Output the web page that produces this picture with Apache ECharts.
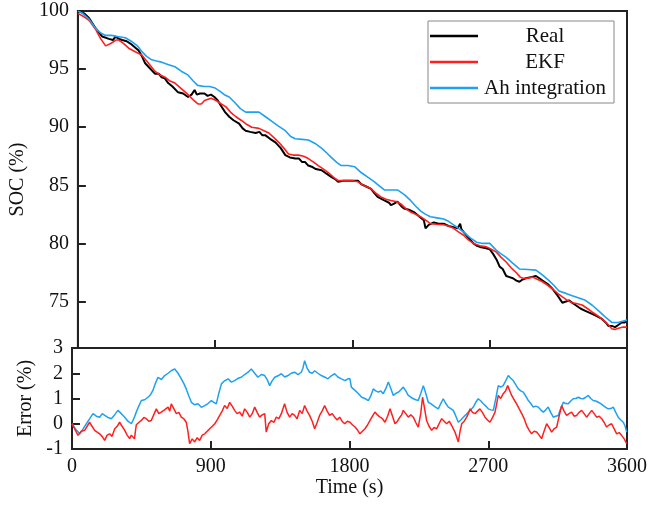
<!DOCTYPE html>
<html>
<head>
<meta charset="utf-8">
<script src="https://cdn.jsdelivr.net/npm/echarts@6/dist/echarts.min.js"></script>
<style>html,body{margin:0;padding:0;background:#fff}#c{width:662px;height:506px}</style>
</head>
<body>
<div id="c"></div>
<script>
// ---- Data (time in s, values in %) ----
const xTicks = [0, 900, 1800, 2700, 3600];
const socTicks = [75, 80, 85, 90, 95, 100];
const errTicks = [-1, 0, 1, 2, 3];
const legendNames = ['Real', 'EKF', 'Ah integration'];

const socReal = [[0,100],[20,99.9],[40,99.8],[73,99.4],[117,98.5],[160,97.8],[203,97.6],[230,97.5],[246,97.8],[270,97.6],[290,97.5],[320,97.4],[354,97.1],[398,96.6],[420,96.1],[441,95.5],[470,95.1],[506,94.6],[530,94.6],[549,94.3],[570,94.2],[592,93.8],[620,93.5],[657,93.0],[690,92.9],[722,92.6],[745,92.8],[765,93.2],[780,92.8],[800,92.9],[830,92.9],[850,92.7],[873,92.8],[895,92.6],[917,92.3],[940,91.8],[965,91.3],[992,90.9],[1020,90.6],[1057,90.3],[1080,89.9],[1100,89.7],[1130,89.6],[1165,89.5],[1190,89.6],[1210,89.3],[1230,89.3],[1260,89.0],[1295,88.7],[1330,88.2],[1360,87.6],[1390,87.4],[1425,87.3],[1450,87.3],[1470,87.0],[1490,87.0],[1510,86.7],[1533,86.6],[1560,86.4],[1598,86.3],[1630,86.0],[1663,85.7],[1690,85.5],[1706,85.3],[1740,85.4],[1771,85.4],[1800,85.4],[1836,85.4],[1857,85.1],[1890,84.9],[1922,84.7],[1945,84.3],[1965,84.0],[2009,83.7],[2040,83.5],[2052,83.3],[2070,83.4],[2095,83.6],[2120,83.2],[2138,83.0],[2170,82.9],[2203,82.7],[2240,82.3],[2268,82.0],[2279,81.3],[2300,81.6],[2333,81.8],[2365,81.7],[2398,81.7],[2430,81.5],[2463,81.4],[2490,81.3],[2506,81.7],[2515,81.2],[2528,81.0],[2560,80.5],[2593,80.0],[2615,79.8],[2636,79.7],[2670,79.6],[2700,79.5],[2722,79.1],[2745,78.6],[2765,78.0],[2785,77.8],[2808,77.2],[2830,77.1],[2852,77.0],[2875,76.8],[2895,76.7],[2915,76.9],[2938,77.0],[2970,77.1],[3003,77.2],[3025,77.0],[3046,76.8],[3080,76.5],[3111,76.1],[3140,75.6],[3176,74.9],[3200,75.0],[3219,75.1],[3240,74.9],[3262,74.7],[3295,74.4],[3327,74.2],[3360,74.0],[3392,73.8],[3436,73.5],[3460,73.2],[3478,72.9],[3500,72.9],[3522,72.8],[3545,73.0],[3565,73.2],[3585,73.2],[3600,73.4]];

const socEKF = [[0,99.8],[40,99.5],[73,99.2],[117,98.4],[150,97.6],[182,97.0],[215,97.2],[250,97.5],[268,97.5],[300,97.2],[333,96.8],[376,96.5],[420,96.2],[463,95.5],[506,94.8],[540,94.5],[571,94.3],[600,94.0],[636,93.8],[680,93.3],[722,92.8],[760,92.3],[787,92.0],[809,92.0],[830,92.3],[873,92.5],[906,92.3],[940,92.0],[971,91.75],[1000,91.3],[1036,90.9],[1070,90.6],[1100,90.3],[1140,90.0],[1187,89.9],[1220,89.7],[1252,89.5],[1285,89.1],[1317,88.7],[1350,88.2],[1381,87.7],[1410,87.6],[1446,87.6],[1480,87.5],[1511,87.3],[1545,87.0],[1576,86.7],[1610,86.4],[1641,86.1],[1675,85.7],[1706,85.4],[1740,85.4],[1771,85.4],[1800,85.4],[1836,85.3],[1857,85.1],[1890,84.9],[1922,84.7],[1955,84.3],[1987,84.0],[2020,83.8],[2052,83.7],[2085,83.6],[2117,83.4],[2150,83.0],[2181,82.7],[2215,82.5],[2246,82.3],[2280,82.0],[2311,81.7],[2350,81.65],[2398,81.6],[2430,81.5],[2463,81.3],[2495,81.0],[2528,80.7],[2560,80.3],[2593,80.0],[2636,79.8],[2679,79.7],[2710,79.5],[2744,79.25],[2775,78.8],[2808,78.4],[2840,77.9],[2873,77.5],[2900,77.1],[2917,77.0],[2950,77.0],[2981,77.1],[3015,76.9],[3046,76.7],[3080,76.4],[3111,76.1],[3145,75.7],[3176,75.4],[3210,75.1],[3241,74.9],[3275,74.8],[3306,74.7],[3340,74.4],[3371,74.1],[3405,73.8],[3436,73.5],[3470,73.1],[3500,72.65],[3520,72.6],[3544,72.7],[3575,72.8],[3600,72.8]];

const socAh = [[0,100],[30,99.8],[73,99.3],[117,98.5],[150,98.1],[182,97.9],[220,97.9],[260,97.8],[311,97.7],[350,97.4],[390,97.0],[420,96.5],[450,96.1],[484,95.8],[515,95.7],[549,95.6],[590,95.4],[636,95.2],[680,94.8],[721,94.5],[755,94.0],[785,93.6],[830,93.5],[863,93.5],[895,93.4],[930,93.1],[960,92.8],[992,92.6],[1030,92.1],[1065,91.6],[1100,91.3],[1140,91.3],[1187,91.3],[1230,90.9],[1272,90.5],[1315,90.1],[1360,89.7],[1395,89.2],[1425,89.0],[1470,88.95],[1511,88.9],[1555,88.6],[1597,88.2],[1630,87.8],[1661,87.4],[1695,87.0],[1726,86.7],[1771,86.7],[1814,86.6],[1857,86.1],[1900,85.7],[1944,85.3],[1980,84.9],[2009,84.6],[2050,84.6],[2095,84.6],[2140,84.2],[2181,83.7],[2215,83.2],[2246,82.8],[2280,82.5],[2311,82.3],[2355,82.2],[2398,82.1],[2430,81.9],[2463,81.6],[2495,81.3],[2528,81.0],[2570,80.5],[2614,80.1],[2655,80.0],[2700,80.0],[2744,79.4],[2775,79.1],[2808,78.8],[2850,78.3],[2895,77.8],[2950,77.75],[3003,77.7],[3045,77.3],[3089,76.8],[3120,76.4],[3154,75.9],[3200,75.7],[3241,75.5],[3285,75.3],[3327,75.1],[3370,74.7],[3414,74.2],[3455,73.7],[3500,73.2],[3541,73.2],[3570,73.3],[3600,73.4]];

const errEKF = [[0,0],[6,0],[39,-0.46],[60,-0.3],[82,-0.26],[114,0.06],[130,-0.1],[147,-0.26],[179,-0.4],[195,-0.5],[212,-0.66],[228,-0.45],[244,-0.4],[260,-0.5],[277,-0.2],[293,-0.1],[309,0.06],[325,-0.1],[342,-0.26],[358,-0.45],[374,-0.59],[385,-0.45],[396,-0.4],[405,-0.6],[417,-0.04],[433,0.05],[450,0.13],[466,0.25],[482,0.2],[498,0.1],[514,0.13],[530,0.35],[547,0.59],[563,0.4],[579,0.46],[600,0.55],[623,0.66],[634,0.5],[644,0.79],[660,0.6],[677,0.4],[693,0.45],[709,0.26],[725,0.2],[741,0.06],[752,-0.3],[763,-0.79],[780,-0.6],[796,-0.72],[812,-0.55],[828,-0.66],[845,-0.45],[861,-0.4],[877,-0.3],[893,-0.2],[910,-0.1],[926,0],[942,0.15],[958,0.33],[974,0.5],[990,0.72],[1007,0.6],[1023,0.85],[1039,0.7],[1055,0.53],[1071,0.4],[1088,0.46],[1104,0.3],[1120,0.59],[1137,0.45],[1153,0.26],[1169,0.4],[1185,0.66],[1201,0.45],[1217,0.26],[1234,0.35],[1250,0.4],[1260,-0.33],[1276,0],[1293,0.13],[1309,0.05],[1325,0.26],[1342,0.2],[1358,0.4],[1379,0.79],[1395,0.45],[1412,0.26],[1428,0.4],[1444,0.33],[1460,0.2],[1477,0.53],[1493,0.4],[1509,0.72],[1525,0.5],[1541,0.33],[1558,0.1],[1574,-0.2],[1590,0.05],[1606,0.33],[1622,0.5],[1639,0.72],[1655,0.5],[1671,0.33],[1688,0.4],[1704,0.26],[1720,0.15],[1736,0.26],[1752,0.1],[1769,0],[1786,0.1],[1803,0.06],[1820,-0.05],[1836,-0.13],[1852,-0.25],[1868,-0.4],[1884,-0.3],[1900,-0.2],[1917,-0.05],[1933,0.13],[1949,0.3],[1965,0.46],[1982,0.35],[1998,0.26],[2014,0.2],[2030,0.06],[2047,0.3],[2063,0.59],[2079,0.3],[2095,0],[2111,0.1],[2127,0.26],[2138,0.35],[2149,0.53],[2165,0.4],[2181,0.26],[2198,0.35],[2214,0.26],[2230,0.05],[2246,-0.13],[2262,0.4],[2274,1.05],[2287,0.6],[2300,0.13],[2316,-0.1],[2333,-0.26],[2349,-0.15],[2365,-0.2],[2381,0],[2398,0.2],[2414,0.1],[2430,0],[2447,0.1],[2463,-0.07],[2484,-0.33],[2495,-0.3],[2506,-0.72],[2517,-0.3],[2528,0],[2544,0.1],[2560,0.26],[2571,0.4],[2582,0.59],[2598,0.45],[2614,0.4],[2630,0.5],[2646,0.59],[2662,0.45],[2679,0.26],[2695,0.15],[2711,0.06],[2728,0.25],[2744,0.46],[2755,0.8],[2765,1.12],[2781,1.0],[2797,1.19],[2812,1.3],[2826,1.51],[2840,1.3],[2852,1.12],[2868,0.95],[2884,0.79],[2900,0.6],[2917,0.4],[2933,0.2],[2949,-0.07],[2965,-0.25],[2981,-0.4],[2997,-0.3],[3014,-0.33],[3030,-0.45],[3046,-0.59],[3062,-0.3],[3079,0],[3095,-0.15],[3111,-0.33],[3127,-0.2],[3144,-0.13],[3160,0.3],[3176,0.72],[3192,0.5],[3208,0.33],[3224,0.4],[3241,0.46],[3257,0.3],[3273,0.33],[3289,0.45],[3306,0.53],[3322,0.4],[3338,0.26],[3355,0.4],[3371,0.53],[3387,0.4],[3403,0.26],[3420,0.3],[3436,0.2],[3452,0.05],[3468,-0.13],[3484,-0.05],[3500,0],[3517,-0.2],[3533,-0.4],[3549,-0.35],[3565,-0.46],[3582,-0.6],[3598,-0.79]];

const errAh = [[0,0],[6,-0.07],[28,-0.25],[50,-0.4],[72,-0.2],[93,0],[115,0.2],[136,0.4],[158,0.3],[179,0.26],[196,0.4],[212,0.33],[233,0.25],[255,0.2],[276,0.35],[298,0.53],[320,0.4],[342,0.26],[363,0.1],[385,0],[401,0.2],[417,0.46],[433,0.7],[450,0.92],[471,0.95],[493,1.05],[509,1.15],[525,1.32],[541,1.6],[558,1.84],[580,1.75],[601,1.91],[623,2.0],[644,2.1],[666,2.17],[688,2.0],[709,1.78],[725,1.6],[741,1.38],[758,1.1],[774,0.85],[796,0.75],[817,0.79],[839,0.65],[861,0.72],[882,0.8],[904,0.92],[920,0.85],[936,0.79],[952,1.2],[969,1.58],[990,1.7],[1012,1.78],[1034,1.65],[1055,1.71],[1077,1.8],[1098,1.84],[1120,1.95],[1142,2.04],[1163,2.17],[1185,2.0],[1206,1.84],[1228,1.95],[1250,1.91],[1266,1.75],[1282,1.51],[1298,1.7],[1315,1.84],[1336,1.9],[1358,1.98],[1380,1.85],[1401,1.91],[1422,2.0],[1444,2.04],[1466,1.95],[1487,2.04],[1498,2.2],[1509,2.5],[1525,2.2],[1541,2.04],[1558,2.0],[1574,2.1],[1595,2.0],[1617,1.91],[1638,1.85],[1660,1.78],[1682,1.9],[1704,1.98],[1725,1.85],[1747,1.78],[1771,1.71],[1790,1.78],[1803,1.78],[1812,1.45],[1836,1.32],[1857,1.2],[1879,1.05],[1900,1.0],[1922,0.92],[1938,1.1],[1954,1.38],[1970,1.3],[1987,1.25],[2003,1.3],[2019,1.19],[2036,1.4],[2052,1.65],[2068,1.4],[2084,1.12],[2100,1.2],[2117,1.25],[2133,1.35],[2149,1.45],[2165,1.3],[2181,1.12],[2198,1.05],[2214,0.99],[2230,0.95],[2246,0.92],[2262,1.2],[2279,1.51],[2295,1.2],[2311,0.85],[2327,0.8],[2344,0.72],[2360,0.65],[2376,0.59],[2392,0.8],[2408,0.99],[2425,0.8],[2441,0.66],[2457,0.6],[2473,0.53],[2490,0.3],[2506,0.06],[2522,0.15],[2538,0.26],[2554,0.35],[2570,0.46],[2587,0.55],[2603,0.66],[2619,0.85],[2635,0.99],[2652,0.9],[2668,0.79],[2684,0.7],[2700,0.59],[2717,0.55],[2733,0.53],[2749,1.0],[2765,1.51],[2781,1.45],[2797,1.51],[2813,1.7],[2830,1.91],[2846,1.8],[2862,1.71],[2878,1.55],[2895,1.38],[2911,1.3],[2927,1.25],[2943,1.1],[2960,0.92],[2976,0.8],[2992,0.66],[3008,0.7],[3024,0.66],[3040,0.55],[3057,0.46],[3073,0.55],[3089,0.66],[3105,0.45],[3122,0.26],[3138,0.3],[3154,0.33],[3170,0.6],[3187,0.85],[3203,0.8],[3219,0.79],[3235,0.9],[3251,0.99],[3268,1.0],[3284,1.05],[3300,1.0],[3316,0.99],[3333,1.05],[3349,1.12],[3365,1.0],[3381,0.92],[3397,0.9],[3414,0.85],[3430,0.8],[3446,0.72],[3462,0.65],[3478,0.59],[3495,0.6],[3511,0.66],[3527,0.45],[3543,0.26],[3560,0.15],[3576,0.06],[3588,-0.1],[3598,-0.33]];

// ---- Chart ----
const FONT = "'Liberation Serif', 'Times New Roman', serif";
const AX = '#222';
const C_REAL = '#000000', C_EKF = '#ff1f1f', C_AH = '#1ea1f0';

const chart = echarts.init(document.getElementById('c'), null, {renderer: 'canvas'});

function xAxisBase(gridIndex, showLabels) {
  return {
    type: 'value', gridIndex, min: 0, max: 3600, interval: 900,
    axisLine: {show: true, onZero: false, lineStyle: {color: AX, width: 2}},
    axisTick: {show: true, inside: true, length: 8, lineStyle: {color: AX, width: 2}},
    axisLabel: {show: showLabels, margin: 8, color: '#111', fontSize: 20, fontFamily: FONT,
      formatter: v => xTicks.includes(v) ? String(v) : ''},
    splitLine: {show: false}
  };
}

chart.setOption({
  animation: false,
  backgroundColor: '#fff',
  grid: [
    {left: 72, top: 11, width: 555, height: 337, show: true, borderColor: AX, borderWidth: 2},
    {left: 72, top: 348, width: 555, height: 101, show: true, borderColor: AX, borderWidth: 2}
  ],
  xAxis: [
    xAxisBase(0, false),
    Object.assign(xAxisBase(1, true), {
      name: 'Time (s)', nameLocation: 'middle', nameGap: 28,
      nameTextStyle: {color: '#111', fontSize: 20, fontFamily: FONT}
    })
  ],
  yAxis: [
    {
      type: 'value', gridIndex: 0, min: 71, max: 100,
      name: 'SOC (%)', nameLocation: 'middle', nameGap: 36, nameRotate: 90,
      nameTextStyle: {color: '#111', fontSize: 20, fontFamily: FONT},
      axisLine: {show: true, lineStyle: {color: AX, width: 2}},
      axisTick: {show: true, inside: true, length: 8, customValues: socTicks, lineStyle: {color: AX, width: 2}},
      axisLabel: {show: true, margin: 9, customValues: socTicks, color: '#111', fontSize: 20, fontFamily: FONT},
      splitLine: {show: false}
    },
    {
      type: 'value', gridIndex: 1, min: -1, max: 3, interval: 1,
      name: 'Error (%)', nameLocation: 'middle', nameGap: 36, nameRotate: 90,
      nameTextStyle: {color: '#111', fontSize: 20, fontFamily: FONT},
      axisLine: {show: true, lineStyle: {color: AX, width: 2}},
      axisTick: {show: true, inside: true, length: 8, lineStyle: {color: AX, width: 2}},
      axisLabel: {show: true, margin: 9, color: '#111', fontSize: 20, fontFamily: FONT,
        formatter: v => errTicks.includes(v) ? String(v) : ''},
      splitLine: {show: false}
    }
  ],
  legend: {
    data: legendNames,
    orient: 'vertical', left: 428, top: 21,
    icon: 'rect',
    itemWidth: 48, itemHeight: 2.5, itemGap: 4,
    padding: [4, 7, 4, 2],
    borderColor: '#888', borderWidth: 1, backgroundColor: '#fff',
    formatter: '{a|{name}}',
    textStyle: {
      color: '#111', fontSize: 21, fontFamily: FONT, lineHeight: 22,
      rich: {a: {width: 124, align: 'center', fontSize: 21, fontFamily: FONT, color: '#111', lineHeight: 22}}
    }
  },
  series: [
    {name: 'Real', type: 'line', xAxisIndex: 0, yAxisIndex: 0, data: socReal, symbol: 'none', showSymbol: false,
      lineStyle: {color: C_REAL, width: 2}, itemStyle: {color: C_REAL}},
    {name: 'EKF', type: 'line', xAxisIndex: 0, yAxisIndex: 0, data: socEKF, symbol: 'none', showSymbol: false,
      lineStyle: {color: C_EKF, width: 1.6}, itemStyle: {color: C_EKF}},
    {name: 'Ah integration', type: 'line', xAxisIndex: 0, yAxisIndex: 0, data: socAh, symbol: 'none', showSymbol: false,
      lineStyle: {color: C_AH, width: 1.6}, itemStyle: {color: C_AH}},
    {name: 'Ah error', type: 'line', xAxisIndex: 1, yAxisIndex: 1, data: errAh, symbol: 'none', showSymbol: false,
      lineStyle: {color: C_AH, width: 1.5}, itemStyle: {color: C_AH}},
    {name: 'EKF error', type: 'line', xAxisIndex: 1, yAxisIndex: 1, data: errEKF, symbol: 'none', showSymbol: false,
      lineStyle: {color: C_EKF, width: 1.5}, itemStyle: {color: C_EKF}}
  ]
});
</script>
</body>
</html>
